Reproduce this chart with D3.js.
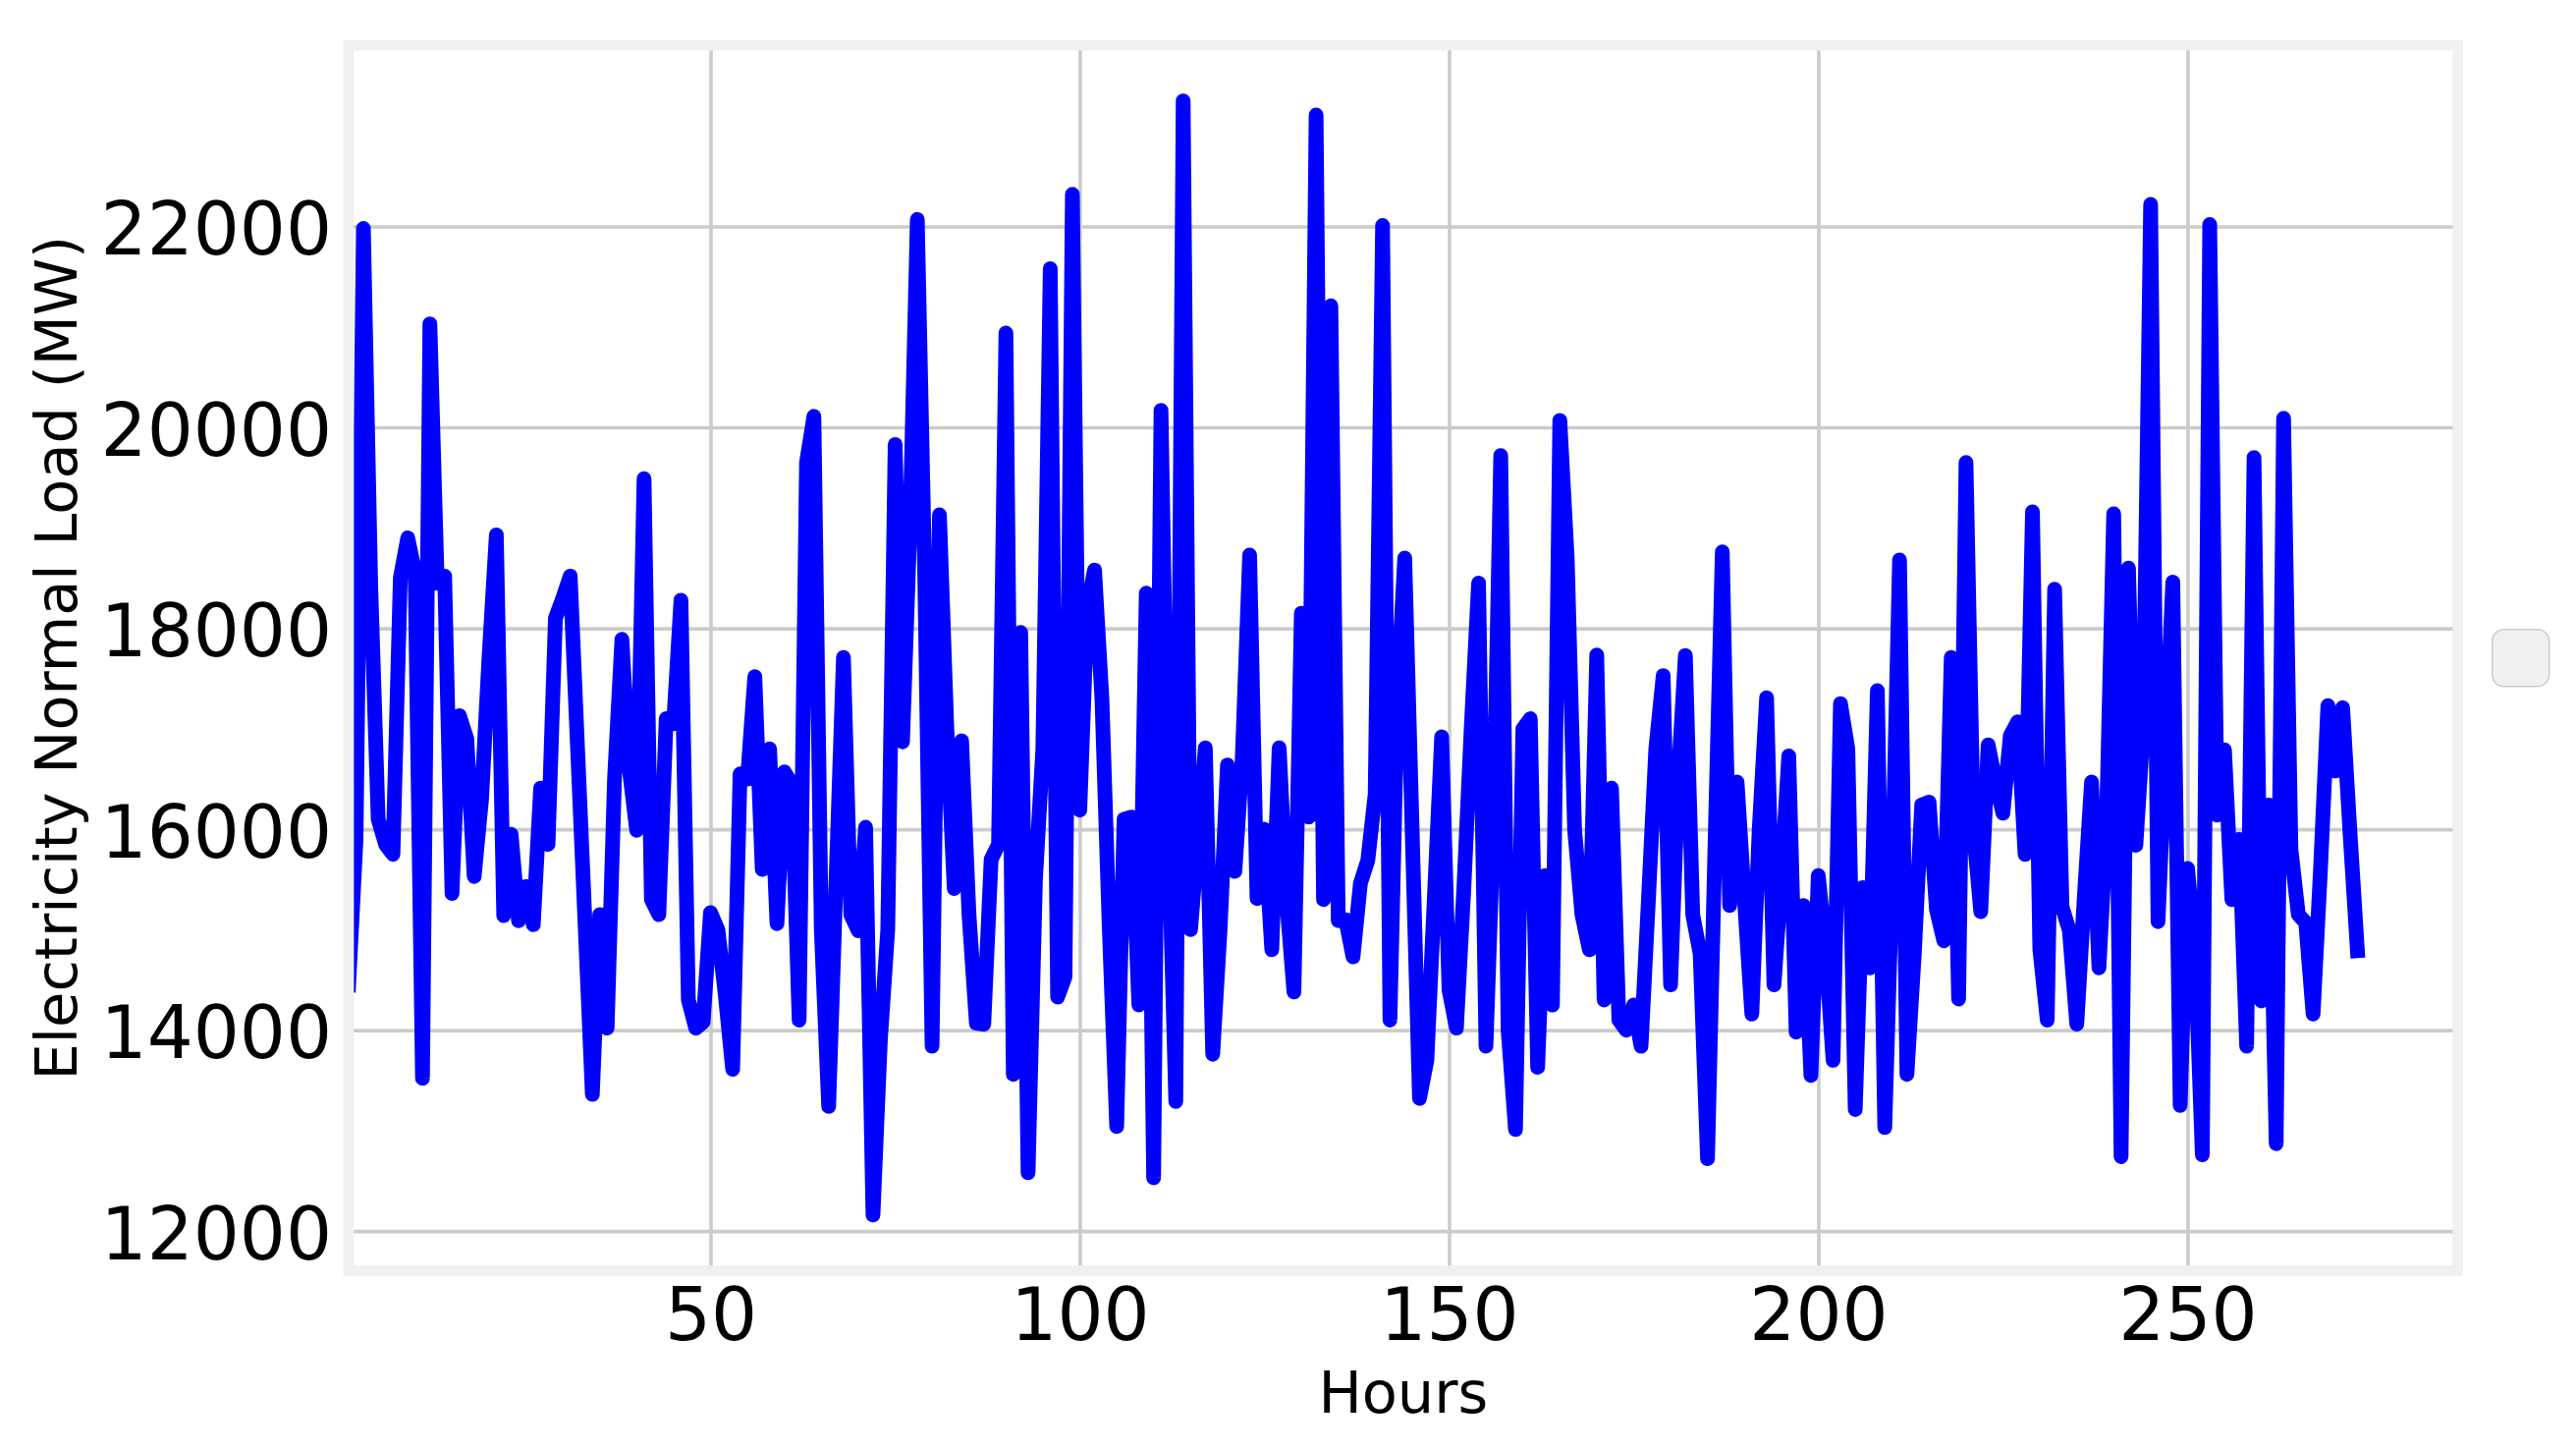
<!DOCTYPE html>
<html>
<head>
<meta charset="utf-8">
<script src="https://cdn.jsdelivr.net/npm/d3@7"></script>
<style>
  body { margin: 0; background: #fff; }
  svg { display: block; background: #fff; }
  text { font-family: "DejaVu Sans", sans-serif; fill: #000; }
</style>
</head>
<body>
<svg id="chart" width="2623" height="1476"></svg>
<script>
// Hourly load (hour 1 .. 273)
var load = [
    14450, 15900, 21980, 18400, 16100, 15850, 15750, 18500, 18900, 18550,
    13520, 21030, 18450, 18520, 15360, 17130, 16900, 15530, 16300, 17700,
    18930, 15140, 15950, 15090, 15430, 15050, 16410, 15850, 18100, 18300,
    18520, 16800, 15080, 13360, 15150, 14020, 16500, 17890, 16600, 15990,
    19490, 15300, 15150, 17100, 17050, 18280, 14300, 14020, 14080, 15170,
    15000, 14350, 13610, 16550, 16500, 17520, 15600, 16800, 15060, 16570,
    16450, 14100, 19650, 20110, 15000, 13240, 15500, 17710, 15150, 14990,
    16020, 12160, 13900, 15000, 19830, 16870, 19000, 22070, 18560, 13840,
    19130, 17000, 15410, 16880, 15150, 14070, 14060, 15700, 15850, 20940,
    13560, 17960, 12580, 15500, 16800, 21580, 14330, 14530, 22320, 16190,
    18200, 18580, 17300, 15000, 13040, 16100, 16120, 14250, 18350, 12530,
    20170, 16000, 13290, 23250, 15000, 15900, 16810, 13760, 15000, 16640,
    15580, 16700, 18730, 15310, 16000, 14800, 16810, 15300, 14380, 18150,
    16120, 23110, 15300, 21210, 15090, 15100, 14730, 15460, 15690, 16350,
    22010, 14100, 17300, 18700, 16000, 13320, 13700, 15300, 16920, 14400,
    14020, 15400, 17000, 18450, 13840, 16000, 19720, 14000, 13010, 17000,
    17100, 13630, 15540, 14250, 20070, 18700, 16000, 15150, 14800, 17735,
    14300, 16410, 14100, 14000, 14250, 13840, 15300, 16800, 17530, 14450,
    16470, 17730, 15150, 14760, 12720, 15800, 18760, 15240, 16470, 15300,
    14160, 16000, 17310, 14450, 15500, 16730, 13980, 15240, 13550, 15540,
    14800, 13700, 17250, 16800, 13210, 15420, 14620, 17380, 13030, 15500,
    18680, 13560, 14760, 16240, 16270, 15200, 14890, 17710, 14310, 19650,
    16000, 15180, 16840, 16470, 16160, 16930, 17070, 15750, 19160, 14800,
    14100, 18390, 15230, 14990, 14060, 15300, 16470, 14620, 16000, 19140,
    12740, 18600, 15840, 17000, 22220, 15080, 16800, 18460, 13250, 15610,
    14800, 12760, 22020, 16140, 16790, 15300, 15900, 13840, 19700, 14290,
    16240, 12870, 20090, 15800, 15150, 15070, 14160, 15600, 17230, 16580,
    17210, 15960, 14790
];
var hours = load.map(function (d, i) { return i + 1; });

var xTicks = [50, 100, 150, 200, 250];
var yTicks = [12000, 14000, 16000, 18000, 20000, 22000];
var xLabel = "Hours";
var yLabel = "Electricity Normal Load (MW)";

var svg = d3.select("#chart"),
    width = +svg.attr("width"),
    height = +svg.attr("height");

var margin = { top: 46, right: 120.3, bottom: 182.5, left: 355 },
    iw = width - margin.left - margin.right,
    ih = height - margin.top - margin.bottom;

// matplotlib-like 5% margins, left edge pinned on the first hour
var xMax = d3.max(hours), yMin = d3.min(load), yMax = d3.max(load);
var x = d3.scaleLinear()
    .domain([1, xMax + 0.05 * (xMax - 1)])
    .range([0, iw]);
var y = d3.scaleLinear()
    .domain([yMin - 0.05 * (yMax - yMin), yMax + 0.05 * (yMax - yMin)])
    .range([ih, 0]);

var g = svg.append("g")
    .attr("transform", "translate(" + margin.left + "," + margin.top + ")");

// Axes double as grid lines
var xAxis = g.append("g")
    .attr("transform", "translate(0," + ih + ")")
    .call(d3.axisBottom(x).tickValues(xTicks).tickSize(-ih).tickPadding(18).tickFormat(d3.format("d")));
var yAxis = g.append("g")
    .call(d3.axisLeft(y).tickValues(yTicks).tickSize(-iw).tickPadding(17).tickFormat(d3.format("d")));

[xAxis, yAxis].forEach(function (a) {
    a.select(".domain").remove();
    a.selectAll(".tick line").attr("stroke", "#cbcbcb").attr("stroke-width", 3.6);
    a.selectAll(".tick text")
        .attr("font-family", "DejaVu Sans")
        .attr("font-size", 74)
        .attr("fill", "#000");
});
yAxis.selectAll(".tick text").attr("dy", 28);

// Clip the line to the plotting area
svg.append("defs").append("clipPath")
    .attr("id", "plotClip")
    .append("rect")
    .attr("width", iw)
    .attr("height", ih);

var line = d3.line()
    .x(function (d, i) { return x(hours[i]); })
    .y(function (d) { return y(d); });

g.append("path")
    .datum(load)
    .attr("clip-path", "url(#plotClip)")
    .attr("fill", "none")
    .attr("stroke", "#0000ff")
    .attr("stroke-width", 15)
    .attr("stroke-linejoin", "round")
    .attr("stroke-linecap", "square")
    .attr("d", line);

// Frame around the axes
g.append("rect")
    .attr("width", iw)
    .attr("height", ih)
    .attr("fill", "none")
    .attr("stroke", "#f0f0f0")
    .attr("stroke-width", 10.7);

// Axis titles
svg.append("text")
    .attr("x", margin.left + iw / 2)
    .attr("y", 1438)
    .attr("text-anchor", "middle")
    .attr("font-size", 59)
    .text(xLabel);

svg.append("text")
    .attr("transform", "translate(78," + (margin.top + ih / 2) + ") rotate(-90)")
    .attr("text-anchor", "middle")
    .attr("font-size", 59)
    .text(yLabel);

// Empty legend box to the right of the axes
g.append("rect")
    .attr("x", iw + 35)
    .attr("y", ih / 2 - 29)
    .attr("width", 58)
    .attr("height", 58)
    .attr("rx", 12)
    .attr("fill", "#f0f0f0")
    .attr("stroke", "#cccccc")
    .attr("stroke-width", 1.5);
</script>
</body>
</html>
